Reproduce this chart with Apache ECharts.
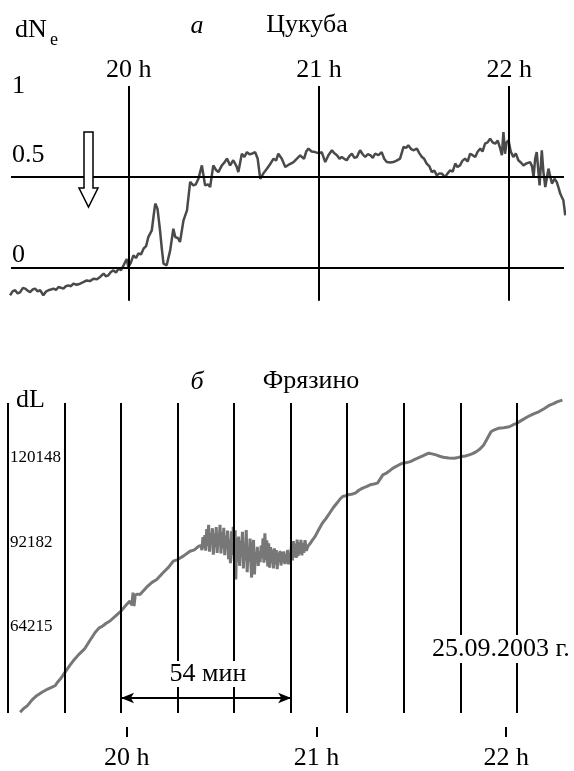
<!DOCTYPE html>
<html>
<head>
<meta charset="utf-8">
<script src="https://cdn.jsdelivr.net/npm/echarts@6/dist/echarts.min.js"></script>
<style>html,body{margin:0;padding:0;background:#fff}#c{width:574px;height:771px}</style>
</head>
<body>
<div id="c"></div>
<script>
// time axis: minutes after 19:00 UT
const hourTicks = [60, 120, 180];
const hourLabels = ['20 h', '21 h', '22 h'];

// panel a (Tsukuba): dNe vs minutes
const dNeTicks = [0, 0.5, 1];
const dNeLabels = ['0', '0.5', '1'];
const dNeSeries = [
[22.6,-0.15],[23.4,-0.128],[24.2,-0.122],[25.0,-0.14],[25.8,-0.132],[26.6,-0.11],[27.4,-0.113],[28.2,-0.125],
[28.9,-0.132],[29.7,-0.118],[30.5,-0.113],[31.3,-0.128],[32.1,-0.122],[33.1,-0.15],[33.9,-0.13],[34.7,-0.122],
[35.5,-0.118],[36.3,-0.113],[37.1,-0.12],[37.9,-0.104],[38.6,-0.108],[39.4,-0.113],[40.2,-0.1],[41.0,-0.095],
[41.8,-0.1],[42.6,-0.086],[43.6,-0.092],[44.7,-0.086],[45.7,-0.078],[46.8,-0.068],[47.8,-0.072],[48.9,-0.059],
[50.0,-0.062],[51.0,-0.049],[52.1,-0.031],[52.8,-0.045],[53.6,-0.04],[54.4,-0.022],[55.2,-0.013],[56.0,-0.025],
[56.8,-0.004],[57.6,-0.012],[58.4,0.015],[59.4,0.05],[59.9,0.005],[60.7,0.03],[61.5,0.07],[62.3,0.055],
[63.1,0.08],[63.9,0.075],[64.7,0.106],[65.5,0.12],[66.2,0.17],[67.3,0.207],[67.9,0.29],[68.4,0.354],
[69.1,0.326],[69.9,0.207],[70.5,0.1],[71.0,0.024],[72.0,0.015],[73.1,0.097],[74.1,0.216],[74.7,0.17],
[75.5,0.165],[76.2,0.143],[77.3,0.262],[78.4,0.317],[79.4,0.473],[80.4,0.454],[81.2,0.46],[82.0,0.49],
[83.1,0.564],[84.1,0.454],[85.0,0.46],[85.7,0.445],[86.7,0.564],[87.5,0.54],[88.3,0.527],[89.4,0.564],
[90.2,0.58],[91.0,0.601],[92.0,0.564],[93.0,0.592],[94.0,0.56],[94.6,0.527],[95.7,0.628],[96.5,0.61],
[97.3,0.637],[98.1,0.625],[98.9,0.628],[99.9,0.637],[100.7,0.6],[101.5,0.49],[102.5,0.52],[103.6,0.546],
[104.6,0.57],[105.7,0.601],[106.5,0.59],[107.2,0.628],[108.3,0.6],[109.4,0.555],[110.7,0.57],[112.0,0.582],
[113.0,0.6],[114.1,0.619],[115.3,0.6],[116.0,0.64],[116.7,0.656],[117.7,0.64],[118.8,0.637],[119.4,0.647],
[120.1,0.63],[120.9,0.637],[122.0,0.582],[123.0,0.62],[124.1,0.647],[124.9,0.63],[125.7,0.62],[126.5,0.6],
[127.2,0.61],[128.0,0.6],[128.8,0.592],[129.6,0.615],[130.4,0.628],[131.2,0.605],[132.0,0.61],[132.5,0.63],
[133.0,0.647],[133.8,0.625],[134.6,0.61],[135.4,0.625],[136.2,0.62],[137.0,0.605],[137.7,0.628],[138.8,0.62],
[139.8,0.637],[140.6,0.6],[141.4,0.582],[142.5,0.58],[143.5,0.582],[144.5,0.59],[145.6,0.601],[146.7,0.665],
[147.5,0.66],[148.2,0.674],[149.0,0.655],[149.8,0.647],[150.9,0.656],[151.7,0.63],[152.5,0.61],[153.2,0.6],
[154.0,0.574],[154.8,0.56],[155.6,0.527],[156.4,0.535],[157.2,0.509],[158.0,0.52],[158.8,0.518],[159.8,0.5],
[160.6,0.52],[161.4,0.537],[162.2,0.53],[163.0,0.574],[163.7,0.555],[164.5,0.564],[165.3,0.59],[166.1,0.601],
[166.9,0.585],[167.7,0.628],[168.5,0.62],[169.3,0.61],[170.1,0.64],[170.9,0.656],[171.6,0.64],[172.4,0.683],
[173.2,0.69],[174.0,0.711],[174.8,0.69],[175.6,0.683],[176.4,0.7],[177.2,0.656],[177.7,0.62],[178.2,0.747],
[178.7,0.628],[179.2,0.69],[179.8,0.702],[180.5,0.64],[181.3,0.61],[182.1,0.63],[182.9,0.592],[183.7,0.58],
[184.5,0.564],[185.5,0.575],[186.6,0.582],[187.2,0.56],[187.7,0.5],[188.2,0.6],[188.7,0.637],[189.6,0.454],
[190.3,0.647],[190.8,0.53],[191.4,0.445],[192.4,0.546],[193.0,0.5],[193.5,0.464],[194.3,0.49],[195.0,0.473],
[195.6,0.44],[196.1,0.409],[196.6,0.39],[197.1,0.372],[197.7,0.29]
];

// panel b (Fryazino): dL vs minutes
const dLTicks = [64215, 92182, 120148];
const dLSeries = [
[26.3,35650],[27.4,36900],[28.6,37840],[30.0,39700],[31.5,41140],[33.2,42300],[35.0,43360],[36.2,43900],
[37.3,44450],[38.1,45600],[39.0,46670],[40.0,48200],[40.8,49420],[42.0,51200],[43.1,52730],[44.8,54800],
[46.6,56600],[48.3,59400],[50.0,62130],[51.2,63600],[52.4,64310],[53.5,65200],[54.7,65970],[56.5,67700],
[58.2,69280],[59.6,71000],[61.0,72590],[61.6,71200],[62.0,75400],[62.3,70900],[62.7,74600],[63.4,74900],
[64.2,74800],[66.3,77200],[68.0,78800],[69.5,79770],[71.4,81900],[73.2,83800],[74.7,85830],[76.1,86390],
[78.0,87600],[80.0,89140],[81.4,89600],[82.7,90800],
[83.5,91000],[83.8,89500],[84.1,93800],[84.4,90200],[84.7,94500],[85.0,89300],[85.3,96500],[85.6,90800],
[85.9,97900],[86.2,89000],[86.5,95200],[86.8,91500],[87.1,96800],[87.4,88000],[87.7,95000],[88.0,90500],
[88.3,97200],[88.6,88600],[88.9,94100],[89.2,91800],[89.5,97900],[89.8,88400],[90.1,95600],[90.4,90100],
[90.7,96900],[91.0,87800],[91.3,94300],[91.6,89900],[91.9,96000],[92.2,86500],[92.5,93100],[92.8,85200],
[93.1,95800],[93.4,87900],[93.7,97300],[94.0,86000],[94.3,96100],[94.5,79800],[94.8,93500],[95.1,85600],
[95.4,94000],[95.7,84300],[96.0,92700],[96.3,87200],[96.6,95600],[96.9,83400],[97.2,91200],[97.5,86100],
[97.8,96200],[98.1,82200],[98.4,90500],[98.7,85700],[99.0,93400],[99.3,84100],[99.5,80400],[99.8,89800],
[100.1,92900],[100.4,81400],[100.7,88300],[101.0,85900],[101.3,90600],[101.6,84300],[101.9,89200],[102.2,85500],
[102.5,91000],[102.8,86800],[103.1,93400],[103.4,85300],[103.7,95100],[104.0,86200],[104.3,92800],[104.6,84100],
[104.9,91800],[105.2,83700],[105.5,90500],[105.8,85200],[106.1,89700],[106.4,83400],[106.7,90100],[107.0,84800],
[107.3,89500],[107.6,83200],[107.9,88700],[108.2,85600],[108.5,89300],[108.8,84400],[109.1,88900],[109.4,85400],
[109.7,89100],[110.0,84900],[110.3,88200],[110.6,85100],[110.9,89600],[111.2,84800],[111.5,88400],[111.8,86600],
[112.1,91200],[112.4,86100],[112.7,92500],[113.0,87200],[113.3,91700],[113.6,86900],[113.9,93000],[114.2,87500],
[114.5,92100],[114.8,88300],[115.1,92900],[115.4,87800],[115.7,91900],[116.0,88600],[116.4,92800],[116.8,89300],
[117.3,90800],[118.0,91700],[118.5,92500],[119.6,94100],[120.7,96300],[121.9,98540],[123.0,100000],[124.2,101850],
[125.3,103600],[126.5,105160],[127.4,106400],[128.3,107350],[129.2,107600],[130.0,107900],[131.1,108100],[132.3,108470],
[133.4,109400],[134.6,110120],[135.8,110600],[137.0,111220],[138.2,111500],[139.3,111780],[140.2,113200],[141.0,114530],
[142.0,115000],[142.8,115620],[144.0,116600],[145.1,117280],[146.2,117900],[147.4,118400],[148.5,118600],[149.7,118930],
[150.8,119500],[152.0,120050],[153.8,120900],[155.5,121710],[156.6,121500],[157.8,121150],[159.0,120700],[160.1,120390],
[161.8,120100],[163.6,120050],[164.8,120300],[165.9,120590],[167.1,120800],[168.3,121150],[169.4,121600],[170.6,122230],
[171.8,123200],[172.9,124460],[174.0,126500],[175.2,128860],[176.3,129500],[177.5,129980],[179.2,130200],[181.0,130510],
[182.1,131100],[183.3,131630],[185.0,132700],[186.8,133830],[188.5,134700],[190.3,135480],[192.0,136500],[193.8,137700],
[195.0,138200],[196.1,138790],[197.0,139100],[197.8,139350]
];
// vertical reference lines of panel b (every ~18 min)
const gridLinesB = [22.45, 40.5, 58.2, 76.1, 94.0, 112.0, 129.7, 147.7, 165.8, 183.5];
const span54 = [58.2, 112.0];
const span54Level = 40380;

const SERIF = "'Liberation Serif','DejaVu Serif',serif";
const chart = echarts.init(document.getElementById('c'), null, {renderer: 'canvas'});

const hourFmt = v => { const i = hourTicks.indexOf(v); return i >= 0 ? hourLabels[i] : ''; };

const option = {
  animation: false,
  backgroundColor: '#fff',
  grid: [
    {left: 11, top: 86, width: 553, height: 214.8},
    {left: 8, top: 403, width: 556, height: 311}
  ],
  xAxis: [
    {gridIndex: 0, type: 'value', min: 22.9, max: 197.3, position: 'top',
     axisLine: {show: false}, axisTick: {show: false}, splitLine: {show: false},
     axisLabel: {customValues: hourTicks, formatter: hourFmt, fontFamily: SERIF, fontSize: 26, color: '#000', margin: 3}},
    {gridIndex: 1, type: 'value', min: 22.45, max: 198.3, position: 'bottom', offset: 14,
     axisLine: {show: false}, splitLine: {show: false},
     axisTick: {show: true, customValues: hourTicks, length: 10, lineStyle: {color: '#000', width: 2}},
     axisLabel: {customValues: hourTicks, formatter: hourFmt, fontFamily: SERIF, fontSize: 26, color: '#000', margin: 18}}
  ],
  yAxis: [
    {gridIndex: 0, type: 'value', min: -0.18, max: 1,
     axisLine: {show: false}, axisTick: {show: false}, splitLine: {show: false},
     axisLabel: {inside: true, margin: 1, customValues: dNeTicks, color: '#000',
       formatter: v => { const i = dNeTicks.indexOf(v); return '{k' + i + '|' + dNeLabels[i] + '}'; },
       rich: {
         k0: {fontFamily: SERIF, fontSize: 26, color: '#000', padding: [0, 0, 26, 0]},
         k1: {fontFamily: SERIF, fontSize: 26, color: '#000', padding: [0, 0, 44, 0]},
         k2: {fontFamily: SERIF, fontSize: 26, color: '#000', padding: [0, 0, 0, 0]}
       }}},
    {gridIndex: 1, type: 'value', min: 35400, max: 138400,
     axisLine: {show: false}, axisTick: {show: false}, splitLine: {show: false},
     axisLabel: {inside: true, margin: 2, customValues: dLTicks, formatter: v => String(v),
       fontFamily: SERIF, fontSize: 17, color: '#000'}}
  ],
  series: [
    {type: 'line', xAxisIndex: 0, yAxisIndex: 0, data: dNeSeries, showSymbol: false, clip: false,
     lineStyle: {color: '#4a4a4a', width: 2.5}, z: 3,
     markLine: {silent: true, symbol: ['none', 'none'], label: {show: false},
       lineStyle: {color: '#000', width: 2, type: 'solid'},
       data: hourTicks.map(v => ({xAxis: v})).concat(dNeTicks.slice(0, 2).map(v => ({yAxis: v})))}},
    {type: 'line', xAxisIndex: 1, yAxisIndex: 1, data: dLSeries, showSymbol: false, clip: false,
     lineStyle: {color: '#777777', width: 3}, z: 3,
     markLine: {silent: true, symbol: ['none', 'none'], label: {show: false},
       lineStyle: {color: '#000', width: 2, type: 'solid'},
       data: gridLinesB.map(v => ({xAxis: v}))}},
    {type: 'line', xAxisIndex: 1, yAxisIndex: 1, data: [], z: 4,
     markLine: {silent: true, symbol: ['arrow', 'arrow'], symbolSize: [8, 13], label: {show: false},
       lineStyle: {color: '#000', width: 2, type: 'solid'},
       data: [[{coord: [span54[0], span54Level]}, {coord: [span54[1], span54Level]}]]}}
  ],
  graphic: [
    {type: 'text', x: 15, y: 30, z: 100, style: {text: 'dN', font: '26px ' + SERIF, fill: '#000', verticalAlign: 'middle'}},
    {type: 'text', x: 50, y: 40, z: 100, style: {text: 'e', font: '18px ' + SERIF, fill: '#000', verticalAlign: 'middle'}},
    {type: 'text', x: 197, y: 26, z: 100, style: {text: 'а', font: 'italic 26px ' + SERIF, fill: '#000', align: 'center', verticalAlign: 'middle'}},
    {type: 'text', x: 307, y: 25, z: 100, style: {text: 'Цукуба', font: '26px ' + SERIF, fill: '#000', align: 'center', verticalAlign: 'middle'}},
    {type: 'polygon', z: 100, shape: {points: [[84,132],[93,132],[93,188],[98,188],[88.5,207],[79,188],[84,188]]},
     style: {fill: '#fff', stroke: '#000', lineWidth: 1.5}},
    {type: 'text', x: 197, y: 382, z: 100, style: {text: 'б', font: 'italic 26px ' + SERIF, fill: '#000', align: 'center', verticalAlign: 'middle'}},
    {type: 'text', x: 311, y: 381, z: 100, style: {text: 'Фрязино', font: '26px ' + SERIF, fill: '#000', align: 'center', verticalAlign: 'middle'}},
    {type: 'text', x: 16, y: 400, z: 100, style: {text: 'dL', font: '26px ' + SERIF, fill: '#000', verticalAlign: 'middle'}},
    {type: 'text', x: 208, y: 674, z: 100, style: {text: '54 мин', font: '26px ' + SERIF, fill: '#000', align: 'center', verticalAlign: 'middle', backgroundColor: '#fff', padding: [0, 2]}},
    {type: 'text', x: 432, y: 649, z: 100, style: {text: '25.09.2003 г.', font: '26px ' + SERIF, fill: '#000', verticalAlign: 'middle', backgroundColor: '#fff', padding: [1, 0]}}
  ]
};
chart.setOption(option);
</script>
</body>
</html>
